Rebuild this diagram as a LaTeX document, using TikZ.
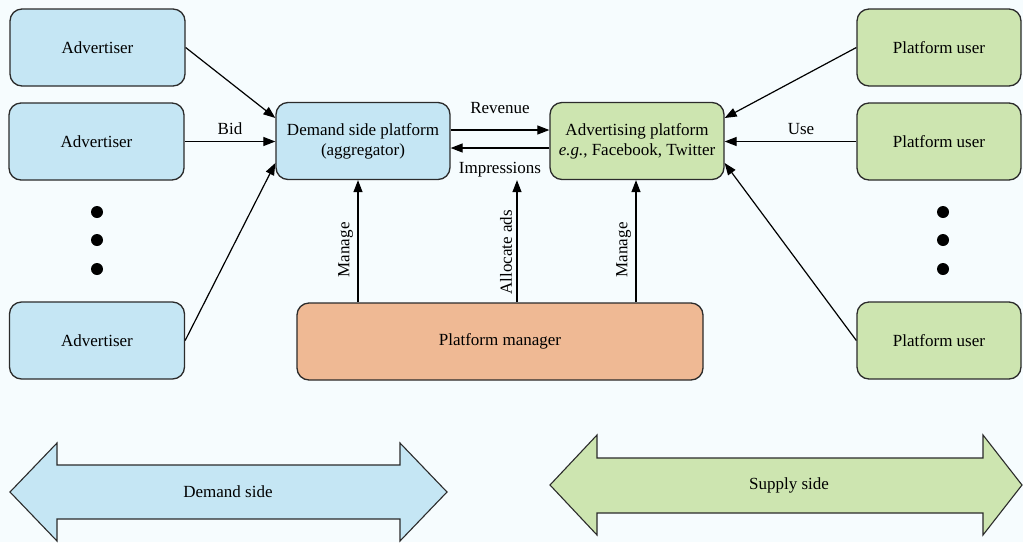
\documentclass[tikz,border=0pt]{standalone}
\usepackage{fontspec}
\setmainfont{Liberation Serif}
\usepackage{xcolor}
\definecolor{bgtint}{HTML}{F6FCFE}
\definecolor{demandfill}{HTML}{C5E6F4}
\definecolor{supplyfill}{HTML}{CDE5B0}
\definecolor{managerfill}{HTML}{EFB994}
\definecolor{boxline}{HTML}{2B2B2B}
\usetikzlibrary{arrows.meta, positioning, calc}

\begin{document}
\begin{tikzpicture}[
        x=1pt, y=-1pt,
        font=\fontsize{17pt}{20pt}\selectfont,
        party/.style={
            rectangle,
            rounded corners=12pt,
            draw=boxline,
            line width=1.3pt,
            align=center,
            minimum width=175pt,
            minimum height=77pt,
            inner sep=2pt
        },
        demand/.style={party, fill=demandfill},
        supply/.style={party, fill=supplyfill, minimum width=164pt},
        flow/.style={
            draw=black,
            line width=1.2pt,
            -{Triangle[length=12pt, width=9pt]}
        },
        sidearrow/.style={
            draw=boxline,
            line width=1.1pt,
            line join=miter
        }
    ]

    \useasboundingbox[fill=bgtint] (0,0) rectangle (1023,542);

    % Demand side: advertisers
    \node[demand] (adv1) at (97.5,47.5) {Advertiser};
    \node[demand] (adv2) at (96.5,141.5) {Advertiser};
    \node[demand] (adv4) at (97,340.5) {Advertiser};
    \foreach \yy in {212,240,269} \fill (97,\yy) circle (6pt);

    % Middle: platforms
    \node[demand, minimum width=174pt] (dsp) at (363,141) {Demand side platform\\(aggregator)};
    \node[supply, minimum width=174pt] (adp) at (637,141) {Advertising platform\\{\itshape e.g.}, Facebook, Twitter};
    \node[party, fill=managerfill, minimum width=406pt] (pm) at (500,341.5) {Platform manager};

    % Supply side: platform users
    \node[supply] (pu1) at (939,47.5) {Platform user};
    \node[supply] (pu2) at (939,141.5) {Platform user};
    \node[supply] (pu4) at (939,340.5) {Platform user};
    \foreach \yy in {212,240,269} \fill (943,\yy) circle (6pt);

    % Advertisers to aggregator
    \draw[flow] (adv1.east) -- ([yshift=23pt]dsp.west);
    \draw[flow] (adv2.east) -- node[above=3pt] {Bid} (adv2.east -| dsp.west);
    \draw[flow] (adv4.east) -- ([yshift=-22pt]dsp.west);

    % Between the platforms
    \draw[flow] ([yshift=11pt]dsp.east) -- node[above=12pt] {Revenue} ([yshift=11pt]adp.west);
    \draw[flow] ([yshift=-7pt]adp.west) -- node[below=10pt] {Impressions} ([yshift=-7pt]dsp.east);

    % Users to advertising platform
    \draw[flow] (pu1.west) -- ([yshift=23pt]adp.east);
    \draw[flow] (pu2.west) -- node[above=3pt, pos=0.42] {Use} (pu2.west -| adp.east);
    \draw[flow] (pu4.west) -- ([yshift=-22pt]adp.east);

    % Manager arrows
    \coordinate (m1) at ([xshift=-142pt]pm.north);
    \coordinate (m2) at ([xshift=17pt]pm.north);
    \coordinate (m3) at ([xshift=136pt]pm.north);
    \draw[flow] (m1) -- node[sloped, above=1pt, pos=0.43] {Manage} (m1 |- dsp.south);
    \draw[flow] (m2) -- node[sloped, above=1pt, pos=0.41] {Allocate ads} (m2 |- dsp.south);
    \draw[flow] (m3) -- node[sloped, above=1pt, pos=0.43] {Manage} (m3 |- adp.south);

    % Side arrows
    \draw[sidearrow, fill=demandfill] (10,492) -- (57,443) -- (57,465) -- (400,465) -- (400,443)
        -- (447,492) -- (400,541) -- (400,519) -- (57,519) -- (57,541) -- cycle;
    \node (dside) at (228,492) {Demand side};
    \draw[sidearrow, fill=supplyfill] (550,485) -- (597,435) -- (597,458) -- (983,458) -- (983,435)
        -- (1022,485) -- (983,535) -- (983,513) -- (597,513) -- (597,535) -- cycle;
    \node (sside) at (789,485) {Supply side};

\end{tikzpicture}
\end{document}
